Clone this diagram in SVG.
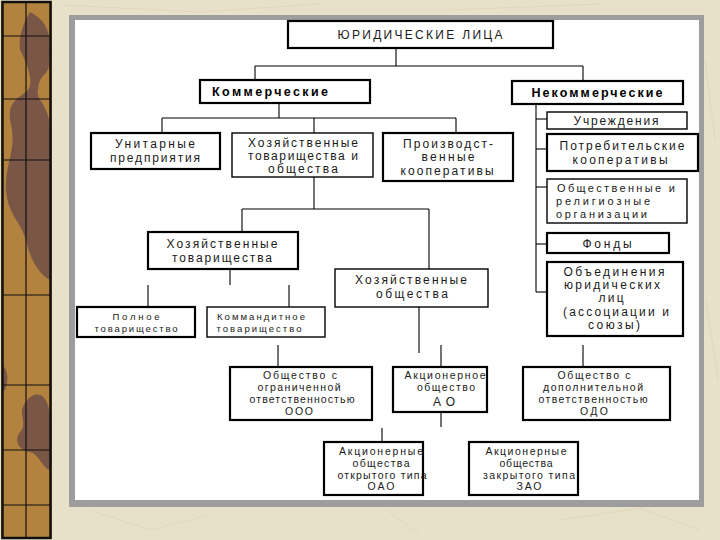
<svg xmlns="http://www.w3.org/2000/svg" width="720" height="540" viewBox="0 0 720 540">
<defs>
<style>
.t{font-family:"Liberation Sans",Arial,sans-serif;font-size:12px;fill:#1a1a1a;text-anchor:middle}
.s{font-family:"Liberation Sans",Arial,sans-serif;font-size:10.5px;fill:#1a1a1a;text-anchor:middle}
.xs{font-size:9.5px}
.m{font-size:11px}
.l{text-anchor:start}
.b{font-weight:bold;font-size:12.5px;fill:#000}
.box{fill:#fff;stroke:#000;stroke-width:1.4}
.thk{stroke-width:2.2}
.c line{stroke:#000;stroke-width:1.1}
.g{stroke:#111;stroke-width:1.2}
</style>
</defs>
<!-- background -->
<rect x="0" y="0" width="720" height="540" fill="#e8e1c9"/>
<g opacity="0.35" stroke="#cbbf9c" stroke-width="0.8" fill="none">
<path d="M90 510 L150 530 L210 515"/><path d="M380 505 L420 535"/><path d="M560 520 L640 508 L700 530"/>
<path d="M705 60 L715 140"/><path d="M706 300 L718 380"/><path d="M60 5 L200 12 L320 4"/><path d="M450 10 L600 4"/>
</g>
<!-- left strip -->
<g>
<rect x="1" y="1" width="51" height="538" fill="#b3823f"/>
<path d="M30 12 C45 20 52 30 50 60 C48 80 40 70 38 90 C35 100 50 105 50 130 L50 280 C40 275 30 260 26 240 C20 220 8 215 6 190 C5 160 18 150 10 120 C8 100 20 98 28 90 C35 80 25 60 20 50 C18 35 25 20 30 12 Z" fill="#7a5646"/>
<path d="M34 395 C45 392 50 405 50 420 L50 470 C42 468 40 455 30 452 C18 450 14 440 20 432 C28 425 18 412 24 405 C27 399 30 397 34 395 Z" fill="#7a5646"/>
<path d="M2 365 C8 370 9 380 5 390 L2 392 Z" fill="#7a5646"/>
<rect x="2.5" y="2" width="48" height="536" fill="none" stroke="#111" stroke-width="2.5"/>
<line class="g" x1="26" y1="2" x2="26" y2="538"/>
<line class="g" x1="3" y1="36" x2="50" y2="36"/>
<line class="g" x1="3" y1="99" x2="50" y2="99"/>
<line class="g" x1="3" y1="160" x2="50" y2="160"/>
<line class="g" x1="3" y1="295" x2="50" y2="295"/>
<line class="g" x1="3" y1="385" x2="50" y2="385"/>
<line class="g" x1="3" y1="450" x2="50" y2="450"/>
<line class="g" x1="3" y1="505" x2="50" y2="505"/>
</g>
<!-- panel -->
<rect x="69" y="15" width="635" height="492" fill="#9d9d9d"/>
<rect x="75" y="20" width="624" height="480" fill="#fff"/>

<!-- connectors -->
<g id="connectors" class="c">
<line x1="396" y1="48" x2="396" y2="66"/>
<line x1="255" y1="66" x2="583" y2="66"/>
<line x1="255" y1="66" x2="255" y2="80"/>
<line x1="583" y1="66" x2="583" y2="81"/>
<line x1="279" y1="103" x2="279" y2="118"/>
<line x1="162" y1="118" x2="456" y2="118"/>
<line x1="162" y1="118" x2="162" y2="133"/>
<line x1="314" y1="118" x2="314" y2="133"/>
<line x1="456" y1="118" x2="456" y2="133"/>
<line x1="536" y1="104" x2="536" y2="292"/>
<line x1="536" y1="119" x2="547" y2="119"/>
<line x1="536" y1="149" x2="547" y2="149"/>
<line x1="536" y1="187" x2="547" y2="187"/>
<line x1="536" y1="244" x2="547" y2="244"/>
<line x1="536" y1="292" x2="547" y2="292"/>
<line x1="314" y1="177" x2="314" y2="209"/>
<line x1="242" y1="209" x2="429" y2="209"/>
<line x1="242" y1="209" x2="242" y2="232"/>
<line x1="429" y1="209" x2="429" y2="269"/>
<line x1="230" y1="269" x2="230" y2="285"/>
<line x1="148" y1="285" x2="148" y2="307"/>
<line x1="289" y1="285" x2="289" y2="307"/>
<line x1="419" y1="307" x2="419" y2="353"/>
<line x1="278" y1="345" x2="278" y2="367"/>
<line x1="441" y1="345" x2="441" y2="367"/>
<line x1="583" y1="345" x2="583" y2="367"/>
<line x1="441" y1="412" x2="441" y2="427"/>
<line x1="382" y1="428" x2="382" y2="442"/>
</g>

<g id="root">
<rect class="box thk" x="288" y="21" width="265" height="27"/>
<text class="t" x="420" y="39" textLength="165" lengthAdjust="spacing">ЮРИДИЧЕСКИЕ ЛИЦА</text>
</g>
<g id="kommercheskie">
<rect class="box thk" x="200" y="80" width="170" height="23"/>
<text class="t b l" x="212" y="96" textLength="116" lengthAdjust="spacing">Коммерческие</text>
</g>
<g id="nekommercheskie">
<rect class="box thk" x="512" y="81" width="171" height="23"/>
<text class="t b" x="597" y="97" textLength="131" lengthAdjust="spacing">Некоммерческие</text>
</g>
<g id="unitarnye">
<rect class="box thk" x="91" y="133" width="129" height="36"/>
<text class="t" x="155" y="148" textLength="80" lengthAdjust="spacing">Унитарные</text>
<text class="t" x="155" y="162" textLength="90" lengthAdjust="spacing">предприятия</text>
</g>
<g id="hoz-tov-obsh">
<rect class="box" x="232" y="133" width="141" height="44"/>
<text class="t" x="303" y="147" textLength="110" lengthAdjust="spacing">Хозяйственные</text>
<text class="t" x="303" y="160" textLength="110" lengthAdjust="spacing">товарищества и</text>
<text class="t" x="303" y="173" textLength="70" lengthAdjust="spacing">общества</text>
</g>
<g id="proizv-koop">
<rect class="box thk" x="383" y="133" width="130" height="48"/>
<text class="t" x="448" y="148" textLength="90" lengthAdjust="spacing">Производст-</text>
<text class="t" x="448" y="161" textLength="53" lengthAdjust="spacing">венные</text>
<text class="t" x="447" y="175" textLength="93" lengthAdjust="spacing">кооперативы</text>
</g>
<g id="uchrezhdeniya">
<rect class="box" x="547" y="112" width="140" height="17"/>
<text class="t" x="616" y="125" textLength="85" lengthAdjust="spacing">Учреждения</text>
</g>
<g id="potreb-koop">
<rect class="box thk" x="547" y="134" width="151" height="37"/>
<text class="t" x="622" y="150" textLength="125" lengthAdjust="spacing">Потребительские</text>
<text class="t" x="620" y="164" textLength="95" lengthAdjust="spacing">кооперативы</text>
</g>
<g id="obshch-relig">
<rect class="box" x="547" y="179" width="140" height="44"/>
<text class="t m l" x="557" y="192" textLength="118" lengthAdjust="spacing">Общественные и</text>
<text class="t m l" x="556" y="205" textLength="94" lengthAdjust="spacing">религиозные</text>
<text class="t m l" x="556" y="218" textLength="91" lengthAdjust="spacing">организации</text>
</g>
<g id="fondy">
<rect class="box thk" x="547" y="233" width="122" height="20"/>
<text class="t" x="607" y="248" textLength="49" lengthAdjust="spacing">Фонды</text>
</g>
<g id="obedineniya">
<rect class="box thk" x="547" y="262" width="136" height="74"/>
<text class="t" x="614" y="276" textLength="101" lengthAdjust="spacing">Объединения</text>
<text class="t" x="612" y="289" textLength="96" lengthAdjust="spacing">юридических</text>
<text class="t" x="611" y="302" textLength="25" lengthAdjust="spacing">лиц</text>
<text class="t" x="616" y="316" textLength="106" lengthAdjust="spacing">(ассоциации и</text>
<text class="t" x="614" y="329" textLength="52" lengthAdjust="spacing">союзы)</text>
</g>
<g id="hoz-tov">
<rect class="box thk" x="148" y="232" width="150" height="37"/>
<text class="t" x="222" y="248" textLength="111" lengthAdjust="spacing">Хозяйственные</text>
<text class="t" x="222" y="262" textLength="100" lengthAdjust="spacing">товарищества</text>
</g>
<g id="hoz-obsh">
<rect class="box" x="335" y="269" width="153" height="38"/>
<text class="t" x="411" y="284" textLength="112" lengthAdjust="spacing">Хозяйственные</text>
<text class="t" x="412" y="298" textLength="72" lengthAdjust="spacing">общества</text>
</g>
<g id="polnoe">
<rect class="box thk" x="77" y="307" width="118" height="30"/>
<text class="s xs" x="136" y="320" textLength="47" lengthAdjust="spacing">Полное</text>
<text class="s xs" x="136" y="332" textLength="83" lengthAdjust="spacing">товарищество</text>
</g>
<g id="kommandit">
<rect class="box" x="207" y="307" width="118" height="30"/>
<text class="s xs" x="261" y="320" textLength="88" lengthAdjust="spacing">Коммандитное</text>
<text class="s xs" x="259" y="332" textLength="85" lengthAdjust="spacing">товарищество</text>
</g>
<g id="ooo">
<rect class="box thk" x="230" y="367" width="142" height="53"/>
<text class="s" x="300" y="379" textLength="74" lengthAdjust="spacing">Общество с</text>
<text class="s" x="299" y="391" textLength="83" lengthAdjust="spacing">ограниченной</text>
<text class="s" x="302" y="403" textLength="105" lengthAdjust="spacing">ответственностью</text>
<text class="s" x="299" y="415" textLength="28" lengthAdjust="spacing">ООО</text>
</g>
<g id="ao">
<rect class="box thk" x="393" y="367" width="94" height="45"/>
<text class="s" x="445" y="379" textLength="81" lengthAdjust="spacing">Акционерное</text>
<text class="s" x="446" y="391" textLength="58" lengthAdjust="spacing">общество</text>
<text class="t" x="444" y="406" textLength="22" lengthAdjust="spacing">АО</text>
</g>
<g id="odo">
<rect class="box thk" x="523" y="367" width="147" height="53"/>
<text class="s" x="594" y="379" textLength="73" lengthAdjust="spacing">Общество с</text>
<text class="s" x="593" y="391" textLength="100" lengthAdjust="spacing">дополнительной</text>
<text class="s" x="593" y="403" textLength="109" lengthAdjust="spacing">ответственностью</text>
<text class="s" x="594" y="415" textLength="28" lengthAdjust="spacing">ОДО</text>
</g>
<g id="oao">
<rect class="box thk" x="324" y="442" width="99" height="53"/>
<text class="s" x="381" y="455" textLength="84" lengthAdjust="spacing">Акционерные</text>
<text class="s" x="381" y="467" textLength="57" lengthAdjust="spacing">общества</text>
<text class="s" x="382" y="479" textLength="89" lengthAdjust="spacing">открытого типа</text>
<text class="s" x="381" y="490" textLength="27" lengthAdjust="spacing">ОАО</text>
</g>
<g id="zao">
<rect class="box thk" x="469" y="442" width="109" height="53"/>
<text class="s" x="526" y="455" textLength="81" lengthAdjust="spacing">Акционерные</text>
<text class="s" x="526" y="467" textLength="53" lengthAdjust="spacing">общества</text>
<text class="s" x="529" y="479" textLength="92" lengthAdjust="spacing">закрытого типа</text>
<text class="s" x="529" y="490" textLength="25" lengthAdjust="spacing">ЗАО</text>
</g>
</svg>
